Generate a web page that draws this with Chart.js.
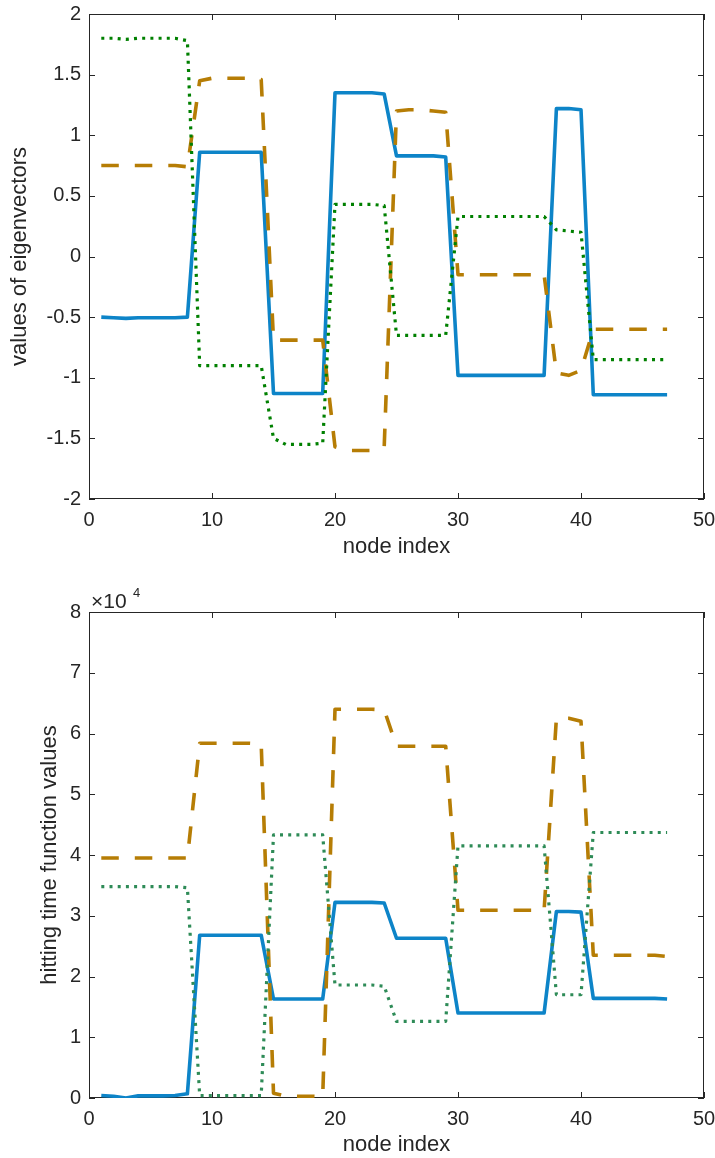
<!DOCTYPE html>
<html>
<head>
<meta charset="utf-8">
<script src="https://cdn.jsdelivr.net/npm/chart.js@4"></script>
<style>
body{margin:0;background:#fff;}
#wrap{position:relative;width:715px;height:1158px;}
canvas{position:absolute;left:0;}
#top{top:0;}
#bottom{top:570px;}
.exp{position:absolute;font-family:"Liberation Sans",Arial,sans-serif;color:#262626;line-height:1;white-space:nowrap;}
</style>
</head>
<body>
<div id="wrap">
  <canvas id="top" width="715" height="570"></canvas>
  <canvas id="bottom" width="715" height="588"></canvas>
  <div class="exp" style="left:91px;top:590px;font-size:21px">×10</div>
  <div class="exp" style="left:133px;top:586px;font-size:13px">4</div>
</div>
<script>
// =====================
// DATA
// =====================

const nodeIndex = [1,2,3,4,5,6,7,8,9,10,11,12,13,14,15,16,17,18,19,20,21,22,23,24,
  25,26,27,28,29,30,31,32,33,34,35,36,37,38,39,40,41,42,43,44,45,46,47];

// top panel: values of eigenvectors
const eigBlue = [-0.50,-0.505,-0.51,-0.505,-0.505,-0.505,-0.505,-0.50,
  0.86,0.86,0.86,0.86,0.86,0.86,
  -1.13,-1.13,-1.13,-1.13,-1.13,
  1.35,1.35,1.35,1.35,1.34,
  0.83,0.83,0.83,0.83,0.82,
  -0.98,-0.98,-0.98,-0.98,-0.98,-0.98,-0.98,-0.98,
  1.22,1.22,1.21,
  -1.14,-1.14,-1.14,-1.14,-1.14,-1.14,-1.14];

const eigBrown = [0.75,0.75,0.75,0.75,0.75,0.75,0.75,0.74,
  1.45,1.47,1.47,1.47,1.47,1.46,
  -0.69,-0.69,-0.69,-0.69,-0.69,
  -1.57,-1.6,-1.6,-1.6,-1.57,
  1.2,1.21,1.21,1.2,1.19,
  -0.15,-0.15,-0.15,-0.15,-0.15,-0.15,-0.15,-0.15,
  -0.96,-0.98,-0.94,
  -0.6,-0.6,-0.6,-0.6,-0.6,-0.6,-0.6];

const eigGreen = [1.8,1.8,1.79,1.8,1.8,1.8,1.8,1.78,
  -0.9,-0.9,-0.9,-0.9,-0.9,-0.9,
  -1.5,-1.55,-1.55,-1.55,-1.54,
  0.43,0.43,0.43,0.43,0.42,
  -0.65,-0.65,-0.65,-0.65,-0.65,
  0.33,0.33,0.33,0.33,0.33,0.33,0.33,0.33,
  0.22,0.21,0.2,
  -0.85,-0.85,-0.85,-0.85,-0.85,-0.85,-0.85];

// bottom panel: hitting time function values
const hitBlue = [400,300,0,350,350,350,400,700,
  26800,26800,26800,26800,26800,26800,
  16300,16300,16300,16300,16300,
  32200,32200,32200,32200,32100,
  26300,26300,26300,26300,26300,
  14000,14000,14000,14000,14000,14000,14000,14000,
  30700,30700,30600,
  16400,16400,16400,16400,16400,16400,16300];

const hitBrown = [39500,39500,39500,39500,39500,39500,39500,39500,
  58400,58400,58400,58400,58400,58300,
  800,300,300,300,200,
  64000,64000,64000,64000,63900,
  57900,57900,57900,57900,57900,
  30900,30900,30900,30900,30900,30900,30900,30900,
  62500,62500,62000,
  23500,23500,23500,23500,23500,23500,23300];

const hitGreen = [34800,34800,34800,34800,34800,34800,34800,34600,
  400,400,400,400,400,400,
  43300,43300,43300,43300,43300,
  18600,18600,18600,18600,18400,
  12600,12600,12600,12600,12600,
  41500,41500,41500,41500,41500,41500,41500,41500,
  17000,17000,17000,
  43700,43700,43700,43700,43700,43700,43700];

const xTicks = [0,10,20,30,40,50];
const eigTicks = [-2,-1.5,-1,-0.5,0,0.5,1,1.5,2];
const hitTicks = [0,10000,20000,30000,40000,50000,60000,70000,80000];


// =====================
// STYLE
// =====================

const FONT = "'Liberation Sans', Arial, sans-serif";
const AXIS = '#262626';
Chart.defaults.font.family = FONT;
Chart.defaults.color = AXIS;

function pts(ys){
  return nodeIndex.map((n,i)=>({x:n,y:ys[i]}));
}

function line(ys, color, dash, width, order){
  return {
    data: pts(ys),
    borderColor: color,
    borderWidth: width,
    borderDash: dash,
    borderCapStyle: 'butt',
    borderJoinStyle: 'round',
    pointRadius: 0,
    tension: 0,
    fill: false,
    order: order
  };
}

// box with inward ticks on all four sides
const boxTicks = {
  id: 'boxTicks',
  beforeDatasetsDraw(chart){
    const {ctx, chartArea:a, scales:{x,y}} = chart;
    const len = 6;
    ctx.save();
    ctx.lineWidth = 1;
    ctx.strokeStyle = AXIS;
    ctx.beginPath();
    x.ticks.forEach(t=>{
      const px = Math.round(x.getPixelForValue(t.value)) + 0.5;
      ctx.moveTo(px, a.bottom); ctx.lineTo(px, a.bottom - len);
      ctx.moveTo(px, a.top); ctx.lineTo(px, a.top + len);
    });
    y.ticks.forEach(t=>{
      const py = Math.round(y.getPixelForValue(t.value)) + 0.5;
      ctx.moveTo(a.left, py); ctx.lineTo(a.left + len, py);
      ctx.moveTo(a.right, py); ctx.lineTo(a.right - len, py);
    });
    ctx.stroke();
    ctx.strokeRect(a.left + 0.5, a.top + 0.5, a.right - a.left - 1, a.bottom - a.top - 1);
    ctx.restore();
  }
};

function makeChart(id, datasets, yMin, yMax, yFmt, opts){
  return new Chart(document.getElementById(id), {
    type: 'line',
    data: {datasets: datasets},
    options: {
      responsive: false,
      animation: false,
      layout: {padding: {top: opts.padTop, right: 11, left: 0, bottom: 0}},
      plugins: {legend: {display: false}, tooltip: {enabled: false}},
      scales: {
        x: {
          type: 'linear', min: 0, max: 50,
          afterBuildTicks: s => { s.ticks = xTicks.map(v=>({value:v})); },
          afterFit: s => { s.height = opts.xHeight; s.paddingLeft = 0; s.paddingRight = 0; },
          grid: {display: false, drawTicks: false},
          border: {display: false},
          ticks: {font: {size: 20}, padding: 9, maxRotation: 0},
          title: {display: true, text: 'node index', font: {size: 22},
                  padding: {top: 0, bottom: opts.xTitlePad}}
        },
        y: {
          type: 'linear', min: yMin, max: yMax,
          afterBuildTicks: s => { s.ticks = opts.yTicks.map(v=>({value:v})); },
          afterFit: s => { s.width = 89; s.paddingTop = 0; s.paddingBottom = 0; },
          grid: {display: false, drawTicks: false},
          border: {display: false},
          ticks: {font: {size: 20}, padding: 8, callback: yFmt},
          title: {display: true, text: opts.yTitle, font: {size: 22},
                  padding: {top: opts.yTitlePad, bottom: 0}}
        }
      }
    },
    plugins: [boxTicks]
  });
}

// =====================
// CHARTS
// =====================

makeChart('top', [
  line(eigBlue, '#0d84c8', [], 3.6, 3),
  line(eigBrown, '#b67d05', [17.5,16], 3.6, 2),
  line(eigGreen, '#008000', [3,5.2], 3.2, 1)
], -2, 2, v => String(v), {
  padTop: 14, xHeight: 71, xTitlePad: 10, yTitle: 'values of eigenvectors', yTitlePad: 7,
  yTicks: eigTicks
});

makeChart('bottom', [
  line(hitBlue, '#0d84c8', [], 3.6, 3),
  line(hitBrown, '#b67d05', [17.5,16], 3.6, 2),
  line(hitGreen, '#2e8b57', [3,5.2], 3.2, 1)
], 0, 80000, v => String(v/10000), {
  padTop: 42, xHeight: 60, xTitlePad: 0, yTitle: 'hitting time function values', yTitlePad: 37,
  yTicks: hitTicks
});
</script>
</body>
</html>
